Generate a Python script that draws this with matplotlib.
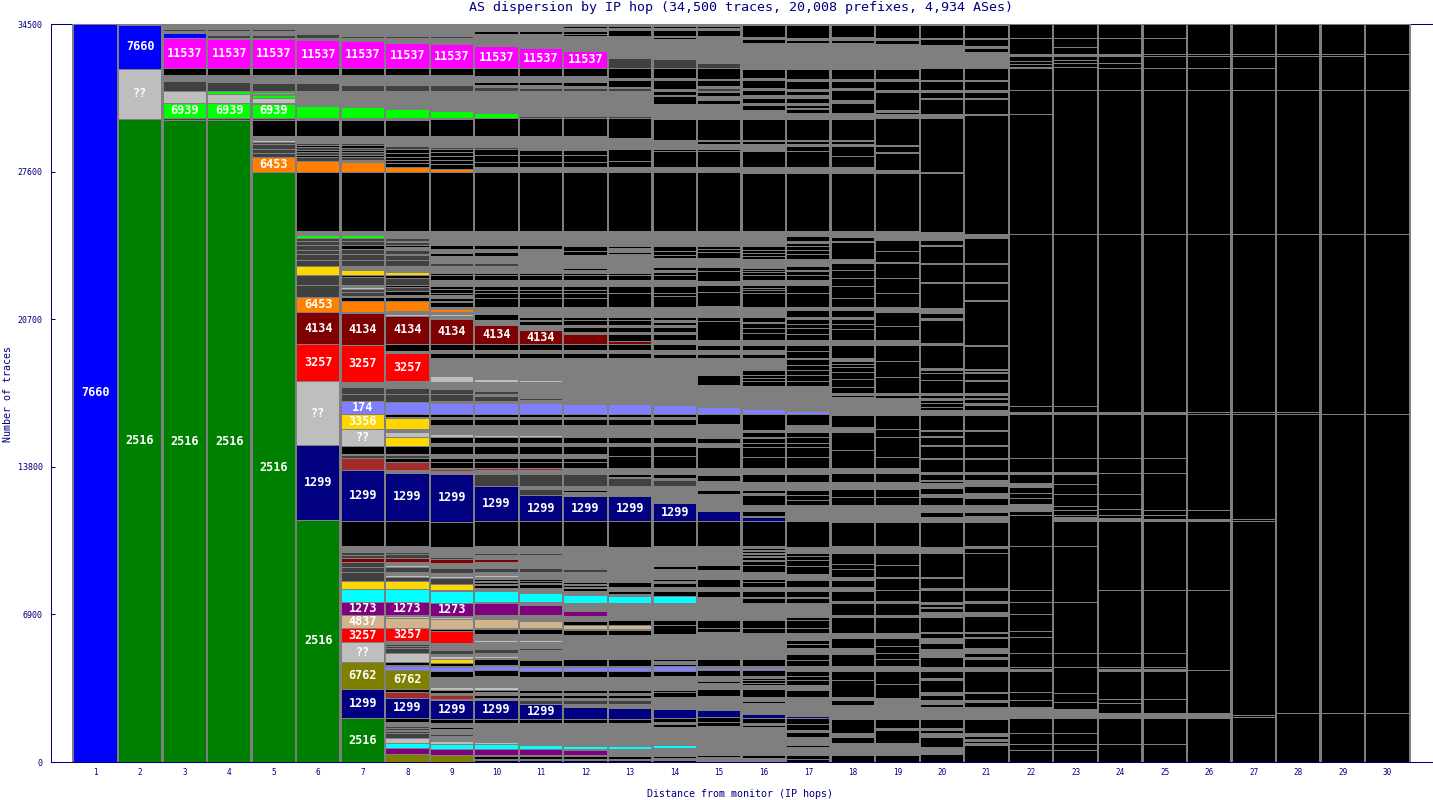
import matplotlib
matplotlib.use("Agg")
import matplotlib.pyplot as plt

TOTAL = 34500
MIN_LABEL = 585
NAVY = "#000080"
GRAY = "#7f7f7f"

# cell kinds that are not labelled: K one small AS, G many tiny ASes, D medium ASes
K, G, D, C, B = "K", "G", "D", "cyan", "brown"

colors = {K: "#000000", G: GRAY, D: "#404040", C: "#00ffff", B: "#a52a2a",
          "??": "#bebebe", "7660": "#0000ff", "2516": "#008000", "11537": "#ff00ff",
          "6939": "#00ff00", "6453": "#ff8000", "4134": "#7f0000", "3257": "#ff0000",
          "174": "#8080ff", "3356": "#ffd700", "1299": "#000080", "1273": "#800080",
          "4837": "#d2b48c", "6762": "#808000"}

y_ticks = [0, 6900, 13800, 20700, 27600, 34500]

# every hop is read from the top of the column down: (AS, traces)
hop_01 = [("7660", 34500)]
hop_02 = [(G, 47), ("7660", 2034), ("??", 2338), ("2516", 30100)]
hop_03 = [(G, 220), (D, 117), (G, 23), (D, 70), ("7660", 234), ("11537", 1403), (K, 327), (G, 281), (D, 468),
          ("??", 561), ("6939", 701), (D, 94), ("2516", 30020)]
hop_04 = [(G, 257), (D, 47), (G, 47), (D, 70), (G, 70), (D, 164), (G, 23), ("11537", 1379), (K, 327), (G, 327),
          (D, 421), ("6939", 140), ("??", 421), ("6939", 701), (D, 94), ("2516", 30020)]
hop_05 = [(G, 240), (D, 70), (G, 187), (D, 140), (G, 70), ("11537", 1356), (K, 327), (G, 351), (D, 397), (G, 47),
          ("6939", 94), (G, 47), ("6939", 117), ("??", 257), (G, 47), ("6939", 631), (D, 117), (K, 725), (G, 140),
          (D, 70), ("??", 94), (D, 70), (D, 234), (D, 187), (D, 210), ("6453", 701), ("2516", 27600)]
hop_06 = [(G, 477), (D, 187), (G, 94), ("11537", 1309), (K, 327), (G, 351), (D, 397), (G, 257), ("6939", 47),
          (G, 397), ("6939", 538), (G, 94), (K, 748), (G, 140), (D, 70), (G, 117), (D, 117), (K, 70), (D, 140), (K, 94),
          (D, 140), (K, 94), (D, 187), ("6453", 538), (K, 2735), (G, 210), ("6939", 140), (D, 140), (D, 187), (D, 234),
          (D, 187), (D, 281), (D, 281), ("3356", 421), (D, 468), (D, 561), ("6453", 701), ("4134", 1496),
          ("3257", 1730), ("??", 2992), ("1299", 3506), ("2516", 11280)]
hop_07 = [(G, 360), (K, 70), (G, 117), (D, 117), (G, 140), ("11537", 1262), (K, 327), (G, 304), (K, 47), (G, 94),
          (D, 304), (G, 257), ("6939", 47), (G, 444), ("6939", 514), (G, 70), (K, 748), (G, 140), (D, 70), (G, 140),
          (D, 94), (K, 117), (D, 94), (K, 94), (D, 140), (K, 94), (D, 140), (G, 117), ("6453", 468), (K, 2735), (G, 210),
          ("6939", 140), (D, 140), (D, 187), (K, 187), (D, 234), (D, 281), (D, 281), (G, 187), ("3356", 234), (K, 70),
          (D, 397), (G, 70), ("??", 117), (D, 140), (D, 164), (G, 70), (K, 164), ("6453", 538), (G, 47), ("4134", 1496),
          ("3257", 1706), (G, 257), (D, 327), (D, 327), ("174", 608), ("3356", 701), ("??", 795), (K, 374), (G, 47),
          (D, 140), (B, 561), ("1299", 2384), (K, 1169), (G, 281), (D, 117), (D, 164), ("4134", 187), (D, 234), (D, 234),
          (D, 421), ("3356", 374), (C, 608), ("1273", 608), ("4837", 608), ("3257", 655), ("??", 935), ("6762", 1262),
          ("1299", 1356), ("2516", 2100)]
hop_08 = [(G, 360), (K, 70), (G, 140), (D, 94), (G, 210), ("11537", 1192), (K, 327), (G, 304), (K, 70), (G, 94),
          (D, 281), (G, 842), ("6939", 421), (G, 70), (K, 748), (G, 491), (D, 140), (K, 187), (K, 164), (K, 140), (K, 140),
          (K, 210), ("6453", 234), (K, 2735), (G, 257), ("6939", 47), (G, 47), (D, 117), (G, 70), (D, 117), (K, 94),
          (G, 140), (D, 187), (K, 70), (D, 210), (D, 281), (G, 281), ("3356", 140), (K, 164), (D, 304), (K, 117), (D, 187),
          (K, 187), (G, 70), (K, 210), ("6453", 468), (G, 117), ("??", 94), ("4134", 1309), (K, 327), (G, 94),
          ("3257", 1332), (G, 304), (D, 281), (D, 374), ("174", 561), (K, 140), (G, 70), ("3356", 491), (G, 140),
          ("??", 234), ("3356", 421), (K, 374), (G, 47), (D, 140), (K, 187), (B, 374), (G, 140), ("1299", 2244), (K, 1169),
          (G, 281), (D, 117), (D, 164), ("4134", 187), (G, 140), ("??", 94), (D, 234), (G, 140), ("??", 94), (D, 187),
          ("3356", 374), (C, 608), ("1273", 608), (G, 47), ("??", 94), ("4837", 468), ("3257", 631), (G, 140), (D, 94),
          (D, 94), (D, 210), ("??", 421), (K, 140), (G, 47), ("174", 187), ("6762", 888), (K, 164), (B, 257), ("1299", 935),
          (K, 187), (G, 210), (D, 94), (D, 94), ("2516", 47), (D, 94), (D, 210), ("??", 234), (C, 234), ("1273", 281),
          ("6762", 400)]
hop_09 = [(G, 360), (K, 70), (G, 140), (D, 94), (G, 281), ("11537", 1122), (K, 327), (G, 304), (K, 70), (G, 94),
          (D, 281), (G, 935), ("6939", 327), (G, 47), (K, 771), (G, 538), (D, 70), (K, 164), (K, 164), (K, 187), (K, 187),
          (K, 257), ("6453", 140), (K, 2735), (G, 421), (D, 47), (G, 210), (K, 187), (G, 117), (D, 47), (K, 140), (G, 327),
          (D, 164), (G, 304), (K, 117), (K, 210), (G, 281), (K, 164), (K, 164), (K, 117), (G, 117), (K, 164), (G, 23),
          (K, 234), (G, 94), ("6453", 140), (G, 117), ("??", 70), (G, 164), ("4134", 1169), (K, 281), (G, 140), (K, 234),
          (G, 655), (D, 47), (G, 140), ("??", 257), (G, 351), (D, 234), (D, 327), (G, 94), ("174", 514), (K, 117), (G, 117),
          (K, 281), (G, 421), ("??", 140), (K, 281), (G, 140), (K, 374), (G, 187), (K, 187), (K, 281), (G, 23), (B, 94),
          (G, 140), ("1299", 2244), (K, 1169), (G, 351), (D, 47), (G, 70), (D, 94), ("4134", 187), (G, 234), (D, 234),
          (G, 140), ("??", 94), (D, 281), ("3356", 281), (G, 47), (C, 561), ("1273", 608), (G, 47), ("??", 94),
          ("4837", 468), (K, 117), ("3257", 538), (G, 164), (D, 70), (G, 94), (D, 187), (G, 94), ("??", 140), ("3356", 187),
          (K, 140), (G, 47), ("174", 187), (K, 281), (G, 397), ("6762", 47), (G, 23), ("??", 140), (K, 140), (G, 94),
          (B, 187), (G, 47), ("1299", 888), (K, 187), (G, 187), (K, 70), (G, 257), (D, 70), (G, 257), ("??", 140), (C, 234),
          ("1273", 281), ("6762", 400)]
hop_10 = [(G, 313), (K, 140), (G, 117), (D, 47), (G, 421), ("11537", 1029), (K, 351), (G, 281), (K, 164), (G, 70),
          (D, 187), (G, 1052), ("6939", 234), (K, 818), (G, 538), (D, 70), (K, 281), (K, 327), (K, 257), (G, 140),
          ("6453", 47), (G, 47), (K, 2735), (G, 421), (D, 47), (G, 210), (K, 187), (G, 117), (K, 187), (G, 327), (D, 164),
          (G, 304), (K, 94), (K, 234), (G, 281), (K, 187), (K, 140), (K, 257), (K, 397), (G, 164), ("6453", 47), (G, 140),
          (K, 257), (G, 187), ("??", 70), ("4134", 888), (K, 281), (G, 140), (K, 234), (G, 655), (D, 47), (G, 281),
          ("??", 117), (G, 444), (D, 140), (G, 94), (D, 210), (G, 117), ("174", 514), (K, 117), (G, 117), (K, 281), (G, 468),
          ("??", 94), (K, 281), (G, 140), (K, 374), (G, 187), (K, 187), (K, 281), (B, 70), (G, 210), (D, 561),
          ("1299", 1636), (K, 1169), (G, 327), (D, 70), (G, 210), ("4134", 140), (G, 281), (D, 164), (G, 164), ("??", 94),
          (G, 70), (K, 94), (G, 47), (K, 94), (G, 47), (K, 164), (G, 140), (C, 514), (G, 47), ("1273", 561), (G, 187),
          ("4837", 421), (G, 47), (K, 234), (G, 281), ("??", 94), (G, 164), (D, 70), (G, 94), (D, 187), (G, 140), ("??", 70),
          (G, 70), (K, 281), (G, 47), ("174", 187), (K, 281), (G, 514), ("??", 94), (K, 140), (G, 94), (K, 140), (G, 94),
          ("1299", 888), (K, 187), (G, 187), (K, 47), (G, 281), (D, 70), (G, 304), ("??", 94), (C, 234), ("1273", 281),
          (G, 47), (K, 140), (G, 70), (K, 130)]
hop_11 = [(G, 313), (K, 140), (G, 117), (D, 47), (G, 514), ("11537", 935), (K, 351), (G, 281), (K, 164), (G, 117),
          (D, 140), (G, 164), (K, 47), (G, 982), (D, 94), (K, 818), (D, 47), (G, 608), (K, 234), (K, 327), (K, 257), (G, 234),
          (K, 2735), (G, 421), (D, 47), (G, 210), (K, 187), (G, 701), (D, 47), (G, 351), (K, 94), (K, 234), (G, 281), (K, 187),
          (K, 140), (K, 257), (K, 397), (G, 468), (K, 140), (G, 70), (K, 164), (G, 257), ("4134", 655), (K, 281), (G, 140),
          (K, 234), (G, 655), (D, 47), (G, 327), ("??", 70), (G, 772), (D, 70), (G, 164), ("174", 514), (K, 117), (G, 117),
          (K, 281), (G, 468), ("??", 94), (K, 281), (G, 140), (K, 374), (G, 187), (K, 187), (K, 281), (B, 70), (G, 210),
          (D, 561), (G, 140), (D, 281), ("1299", 1216), (K, 1169), (G, 327), (D, 70), (G, 257), ("4134", 47), (G, 327),
          (D, 164), (G, 351), (K, 70), (G, 23), (K, 94), (G, 47), (K, 187), (G, 234), (C, 421), (G, 140), ("1273", 468),
          (G, 281), ("4837", 327), (G, 47), (K, 234), (G, 281), ("??", 94), (G, 281), (D, 47), (G, 117), (D, 47), (G, 304),
          (K, 281), (G, 47), ("174", 187), (K, 281), (G, 608), (K, 140), (G, 94), (K, 140), (G, 94), (D, 187), ("1299", 701),
          (K, 187), (G, 187), (K, 47), (G, 281), (D, 70), (G, 444), (C, 187), ("1273", 281), (G, 47), (K, 140), (G, 70), (K, 130)]
hop_12 = [(G, 80), (K, 94), (G, 140), (K, 140), (K, 94), (D, 70), (G, 655), ("11537", 795), (K, 351), (G, 281), (K, 211),
          (G, 70), (D, 140), (G, 164), (K, 47), (G, 982), (D, 94), (K, 818), (G, 655), (K, 234), (K, 327), (K, 257), (G, 234),
          (K, 2735), (G, 701), (K, 234), (K, 187), (G, 468), (K, 70), (G, 70), (K, 117), (G, 117), (K, 94), (K, 234), (G, 281),
          (K, 187), (K, 140), (K, 257), (K, 397), (G, 468), (K, 140), (K, 234), (G, 117), (K, 210), (G, 117), ("4134", 468),
          (K, 281), (G, 140), (K, 234), (G, 655), (D, 47), (G, 1216), (D, 47), (G, 187), ("174", 468), (K, 117), (G, 117),
          (K, 281), (G, 561), (K, 281), (G, 140), (K, 374), (G, 187), (K, 187), (K, 281), (G, 281), (D, 561), (G, 164), (K, 117),
          (G, 187), ("1299", 1169), (K, 1169), (G, 842), (K, 47), (G, 187), (D, 117), (G, 444), (K, 94), (G, 70), (K, 70),
          (G, 70), (K, 140), (G, 164), (C, 374), (G, 374), ("1273", 234), (G, 234), (K, 210), ("4837", 164), (G, 47), (K, 234),
          (G, 678), (D, 47), (G, 421), (K, 304), (G, 47), ("174", 187), (K, 281), (G, 304), (K, 47), (G, 281), (K, 117), (G, 94),
          (K, 140), (G, 94), (D, 187), (G, 140), ("1299", 561), (K, 187), (G, 187), (K, 47), (G, 281), (D, 70), (G, 491),
          (C, 140), (G, 47), ("1273", 234), (G, 47), (K, 140), (G, 70), (K, 130)]
hop_13 = [(G, 80), (K, 94), (G, 117), (K, 257), (G, 47), (K, 70), (G, 748), ("11537", 47), (G, 140), (D, 468), (K, 444),
          (G, 117), (K, 304), (G, 70), (D, 117), (G, 164), (K, 47), (G, 982), (D, 94), (K, 912), (G, 538), (K, 538), (K, 304),
          (G, 234), (K, 2735), (G, 701), (K, 117), (G, 164), (K, 94), (G, 140), (K, 47), (G, 468), (K, 47), (G, 187), (K, 94),
          (K, 234), (G, 281), (K, 327), (K, 655), (G, 468), (K, 140), (K, 234), (G, 117), (K, 210), (G, 117), (K, 304),
          ("4134", 164), (K, 281), (G, 140), (K, 234), (G, 772), (K, 47), (G, 1332), ("174", 468), (K, 117), (G, 117), (K, 281),
          (G, 561), (K, 281), (G, 140), (K, 468), (K, 561), (G, 281), (K, 117), (G, 47), (D, 397), (G, 468), ("1299", 1169),
          (K, 1169), (G, 842), (K, 47), (G, 234), (D, 70), (G, 304), (K, 70), (G, 70), (K, 234), (G, 187), (K, 164), (G, 70),
          (C, 327), (G, 795), (K, 257), ("4837", 164), (G, 47), (K, 234), (G, 1145), (K, 304), (G, 47), ("174", 187), (K, 281),
          (G, 304), (K, 47), (G, 281), (K, 117), (G, 94), (K, 140), (G, 94), (D, 187), (G, 187), ("1299", 514), (K, 187),
          (G, 187), (K, 47), (G, 281), (D, 70), (G, 491), (C, 140), (G, 187), ("1273", 47), (G, 94), (K, 140), (G, 70), (K, 130)]
hop_14 = [(G, 80), (K, 94), (G, 94), (K, 281), (G, 47), (K, 94), (G, 842), (D, 47), (G, 47), (D, 444), (K, 444), (G, 117),
          (K, 397), (G, 94), (K, 187), (G, 47), (K, 374), (G, 585), (D, 47), (G, 70), (K, 982), (G, 444), (K, 94), (K, 748),
          (G, 234), (K, 2735), (G, 701), (K, 234), (K, 187), (K, 164), (G, 397), (K, 164), (G, 70), (K, 140), (K, 234), (G, 281),
          (K, 327), (K, 140), (K, 514), (G, 468), (K, 140), (G, 117), (K, 117), (G, 117), (K, 210), (G, 117), (K, 281), (G, 187),
          (K, 281), (G, 164), (K, 210), (G, 772), (K, 47), (G, 444), (K, 47), (G, 888), ("174", 421), (K, 117), (G, 117), (K, 281),
          (G, 561), (K, 281), (G, 140), (K, 468), (K, 561), (G, 281), (K, 187), (G, 94), (D, 281), (G, 795), ("1299", 842),
          (K, 1169), (G, 865), (K, 47), (G, 23), (K, 140), (G, 444), (K, 94), (G, 117), (K, 187), (G, 164), (K, 257), (C, 281),
          (G, 655), (K, 47), (G, 117), (K, 234), (K, 397), (G, 1192), (K, 94), (G, 117), (K, 117), ("174", 210), (K, 257),
          (G, 304), (K, 47), (G, 281), (K, 94), (K, 234), (G, 234), (D, 47), (G, 281), ("1299", 444), (K, 164), (G, 94), (K, 164),
          (G, 842), (C, 117), (G, 374), (K, 117), (G, 70), (K, 130)]
hop_15 = [(G, 80), (K, 94), (G, 94), (K, 281), (G, 94), (K, 47), (G, 842), (D, 47), (G, 257), (D, 234), (K, 491), (G, 70),
          (K, 281), (G, 70), (D, 164), (G, 47), (K, 164), (G, 210), (K, 187), (G, 678), (K, 982), (G, 47), (K, 140), (G, 257),
          (K, 94), (K, 748), (G, 234), (K, 2735), (G, 514), (K, 47), (G, 164), (K, 140), (K, 140), (K, 257), (G, 444), (K, 187),
          (K, 444), (G, 187), (K, 351), (K, 655), (G, 491), (K, 210), (K, 888), (G, 210), (K, 257), (G, 164), (K, 187), (G, 795),
          (K, 468), (G, 1029), ("174", 351), (K, 468), (G, 631), (K, 234), (G, 187), (K, 1005), (G, 304), (K, 304), (G, 397),
          (K, 187), (G, 795), ("1299", 491), (K, 1169), (G, 444), (K, 47), (G, 374), (K, 234), (G, 421), (K, 374), (G, 187),
          (K, 281), (G, 173), (C, 47), (G, 856), (K, 374), (K, 210), (G, 1239), (K, 327), (G, 94), ("174", 94), (K, 281), (G, 234),
          (K, 94), (K, 47), (G, 234), (K, 327), (G, 210), (D, 47), (G, 421), ("1299", 327), (K, 234), (K, 187), (G, 842), (K, 70),
          (C, 47), (G, 374), (K, 94), (G, 200)]
hop_16 = [(G, 33), (K, 561), (G, 94), (K, 187), (G, 888), (D, 47), (G, 94), (D, 47), (G, 164), (K, 397), (G, 117), (K, 351),
          (G, 94), (K, 234), (G, 140), (K, 234), (G, 94), (K, 234), (G, 421), (K, 982), (G, 47), (K, 140), (G, 281), (K, 70),
          (K, 725), (G, 281), (K, 2712), (G, 701), (K, 187), (K, 140), (K, 140), (K, 140), (G, 374), (K, 70), (K, 70), (K, 94),
          (K, 140), (K, 234), (G, 234), (K, 140), (K, 94), (K, 140), (K, 655), (G, 468), (K, 234), (G, 47), (K, 234), (K, 234),
          (K, 327), (G, 234), (K, 257), (G, 164), (K, 187), (G, 561), (K, 234), (K, 140), (K, 164), (K, 234), (G, 1052),
          ("174", 257), (K, 725), (G, 94), (K, 234), (G, 47), (K, 234), (K, 187), (K, 468), (K, 538), (G, 257), (K, 374), (G, 374),
          (K, 140), (G, 94), (K, 468), (G, 304), (K, 210), (G, 47), ("1299", 210), (K, 1169), (G, 70), (K, 94), (G, 47), (K, 94),
          (G, 47), (K, 94), (G, 47), (K, 140), (G, 70), (K, 187), (K, 281), (G, 351), (K, 140), (K, 234), (G, 187), (K, 281), (G, 47),
          (K, 234), (G, 631), (K, 47), (G, 117), (K, 374), (K, 210), (G, 538), (K, 47), (G, 655), (K, 327), (G, 70), ("174", 117),
          (K, 281), (G, 94), (K, 94), (K, 140), (K, 94), (G, 187), (K, 374), (G, 187), (K, 94), (G, 514), ("1299", 187), (K, 234),
          (G, 94), (K, 94), (G, 421), (K, 47), (G, 397), (K, 47), (G, 397), (K, 140), (G, 200)]
hop_17 = [(G, 33), (K, 608), (G, 94), (K, 140), (G, 47), (K, 47), (G, 795), (D, 47), (G, 304), (K, 444), (G, 94), (K, 374),
          (G, 94), (K, 187), (G, 140), (K, 234), (G, 94), (K, 140), (G, 47), (K, 187), (G, 281), (K, 982), (G, 70), (K, 117), (G, 94),
          (K, 257), (K, 725), (G, 187), (K, 47), (G, 47), (K, 2712), (G, 234), (K, 234), (G, 94), (K, 140), (K, 187), (K, 187),
          (K, 234), (G, 327), (K, 187), (G, 47), (K, 187), (K, 234), (G, 234), (K, 374), (K, 655), (G, 140), (K, 327), (G, 94),
          (K, 234), (K, 187), (K, 281), (K, 281), (G, 234), (K, 281), (K, 327), (G, 47), (K, 281), (K, 234), (K, 234), (K, 281),
          (K, 257), (G, 1145), ("174", 164), (K, 491), (G, 327), (K, 234), (K, 281), (K, 187), (K, 468), (K, 538), (G, 257), (K, 374),
          (G, 374), (K, 234), (K, 234), (K, 234), (G, 701), ("1299", 70), (K, 1169), (G, 304), (K, 140), (K, 187), (K, 281), (K, 374),
          (G, 281), (K, 327), (G, 187), (K, 281), (G, 47), (K, 234), (G, 655), (K, 140), (K, 374), (K, 234), (G, 327), (K, 187),
          (K, 187), (G, 281), (K, 281), (K, 281), (G, 117), ("174", 47), (G, 70), (K, 234), (K, 187), (K, 234), (G, 234), (K, 327),
          (G, 888), ("1299", 94), (K, 281), (K, 281), (G, 94), (K, 234), (G, 374), (K, 94), (G, 374), (K, 187), (K, 170)]
hop_18 = [(G, 33), (K, 561), (G, 140), (K, 164), (G, 1216), (K, 444), (G, 94), (K, 327), (G, 94), (K, 468), (G, 140), (K, 468),
          (G, 281), (K, 982), (G, 70), (K, 117), (G, 94), (K, 468), (K, 514), (G, 187), (K, 47), (G, 47), (K, 2712), (G, 281),
          (K, 187), (G, 47), (K, 795), (G, 187), (K, 327), (K, 374), (K, 374), (K, 561), (K, 421), (G, 140), (K, 327), (G, 94),
          (K, 234), (K, 234), (K, 514), (G, 234), (K, 608), (G, 140), (K, 140), (K, 140), (K, 234), (K, 327), (K, 374), (K, 281),
          (G, 94), (K, 94), (G, 842), (K, 561), (G, 234), (K, 842), (K, 842), (G, 234), (K, 421), (G, 327), (K, 374), (K, 374),
          (G, 795), (K, 1145), (G, 304), (K, 514), (K, 234), (K, 374), (G, 140), (K, 327), (G, 187), (K, 468), (G, 94), (K, 561),
          (G, 94), (K, 748), (G, 234), (K, 468), (G, 281), (K, 561), (G, 234), (K, 421), (K, 795), (G, 140), (K, 234), (G, 655),
          (K, 655), (G, 187), (K, 281), (G, 561), (K, 350)]
hop_19 = [(G, 33), (K, 608), (G, 94), (K, 187), (G, 1192), (K, 444), (G, 94), (K, 421), (G, 94), (K, 842), (G, 94), (K, 94),
          (G, 187), (K, 1262), (G, 47), (K, 281), (G, 47), (K, 795), (G, 140), (K, 2712), (G, 421), (K, 514), (K, 514), (G, 47),
          (K, 701), (K, 701), (K, 655), (G, 234), (K, 655), (K, 655), (G, 234), (K, 748), (K, 748), (K, 748), (G, 94), (K, 140),
          (G, 795), (K, 655), (K, 374), (K, 935), (K, 514), (G, 234), (K, 421), (G, 327), (K, 374), (K, 374), (G, 795), (K, 1145),
          (G, 304), (K, 561), (K, 561), (G, 47), (K, 561), (K, 514), (G, 94), (K, 561), (G, 94), (K, 748), (G, 234), (K, 374),
          (K, 327), (K, 281), (K, 327), (G, 234), (K, 608), (K, 655), (G, 982), (K, 421), (G, 94), (K, 608), (G, 561), (K, 350)]
hop_20 = [(G, 33), (K, 608), (G, 47), (K, 281), (G, 530), (K, 47), (G, 519), (K, 561), (G, 47), (K, 421),
          (G, 94), (K, 281), (G, 47), (K, 701), (G, 187), (K, 2501), (G, 47), (K, 2782), (G, 374), (K, 234), (G, 47), (K, 795),
          (G, 47), (K, 842), (G, 47), (K, 1169), (G, 234), (K, 234), (G, 94), (K, 1075), (G, 94), (K, 1075), (G, 94), (K, 140),
          (K, 327), (K, 608), (G, 94), (K, 140), (G, 94), (K, 140), (K, 187), (K, 140), (G, 234), (K, 701), (G, 47), (K, 234),
          (G, 47), (K, 374), (G, 47), (K, 561), (G, 47), (K, 608), (G, 94), (K, 281), (G, 47), (K, 94), (G, 234), (K, 281),
          (G, 140), (K, 374), (G, 327), (K, 210), (G, 234), (K, 1169), (G, 304), (K, 1122), (G, 47), (K, 468), (G, 94), (K, 538),
          (G, 94), (K, 140), (G, 47), (K, 187), (G, 257), (K, 701), (G, 47), (K, 234), (G, 234), (K, 281), (G, 374), (K, 468),
          (G, 187), (K, 327), (G, 94), (K, 561), (G, 140), (K, 234), (G, 187), (K, 140), (G, 561), (K, 421), (G, 94), (K, 94),
          (G, 187), (K, 514), (G, 281), (K, 450)]
hop_21 = [(G, 33), (K, 608), (G, 47), (K, 327), (G, 94), (K, 187), (G, 234), (K, 47), (G, 234), (G, 234), (K, 561), (G, 47),
          (K, 421), (G, 94), (K, 281), (G, 47), (K, 701), (G, 47), (K, 5563), (G, 187), (K, 1169), (G, 47), (K, 842), (G, 47),
          (K, 795), (G, 47), (K, 2057), (G, 47), (K, 1075), (G, 47), (K, 94), (G, 47), (K, 327), (G, 47), (K, 561), (G, 94), (K, 140),
          (G, 47), (K, 187), (G, 94), (K, 234), (G, 234), (K, 701), (G, 47), (K, 655), (G, 47), (K, 561), (G, 47), (K, 608), (G, 94),
          (K, 281), (G, 94), (K, 47), (G, 140), (K, 327), (G, 234), (K, 327), (G, 327), (K, 187), (G, 281), (K, 1145), (G, 70),
          (K, 234), (K, 1636), (G, 94), (K, 538), (G, 70), (K, 421), (G, 187), (K, 748), (G, 47), (K, 187), (G, 47), (K, 468), (G, 94),
          (K, 47), (G, 94), (K, 187), (G, 94), (K, 374), (G, 187), (K, 982), (G, 47), (K, 327), (G, 94), (K, 234), (G, 561), (K, 655),
          (G, 140), (K, 140), (G, 94), (K, 94), (G, 94), (K, 850)]
hop_22 = [(K, 655), (K, 734), (G, 94), (K, 234), (K, 140), (K, 140), (G, 47), (K, 1029), (K, 1122), (K, 5610), (K, 8041), (K, 281),
          (G, 94), (K, 2057), (K, 655), (G, 94), (K, 421), (G, 187), (K, 281), (K, 234), (K, 281), (G, 327), (K, 187), (K, 1473),
          (K, 2034), (K, 561), (K, 561), (K, 795), (K, 281), (K, 748), (K, 655), (K, 94), (G, 94), (K, 982), (K, 374), (K, 327),
          (G, 514), (K, 701), (K, 514), (K, 281), (K, 600)]
hop_23 = [(K, 655), (K, 421), (K, 313), (G, 94), (K, 187), (K, 154), (K, 206), (K, 1043), (K, 6732), (K, 8041), (K, 281), (G, 94),
          (K, 2057), (K, 655), (G, 94), (K, 468), (K, 468), (K, 561), (K, 187), (K, 234), (K, 94), (G, 210), (K, 1169), (K, 2595),
          (K, 2384), (K, 655), (K, 1216), (K, 421), (K, 327), (G, 421), (K, 701), (K, 514), (K, 281), (K, 600)]
hop_24 = [(K, 655), (K, 734), (G, 94), (K, 341), (K, 220), (K, 1029), (K, 6732), (K, 8322), (G, 94), (K, 2057), (K, 701), (K, 982),
          (K, 701), (K, 281), (K, 140), (G, 164), (K, 3202), (K, 2945), (K, 655), (K, 94), (G, 94), (K, 1309), (K, 187), (K, 468),
          (G, 234), (K, 1216), (K, 880)]
hop_25 = [(K, 655), (K, 734), (K, 94), (K, 575), (K, 1014), (K, 6732), (K, 8322), (G, 94), (K, 2057), (K, 701), (K, 1730), (K, 234),
          (K, 187), (G, 117), (K, 3202), (K, 2945), (K, 655), (K, 94), (G, 94), (K, 1309), (K, 655), (G, 234), (K, 1216), (K, 880)]
hop_26 = [(K, 1388), (K, 94), (K, 575), (K, 1014), (K, 6732), (K, 8322), (K, 94), (K, 4488), (K, 421), (G, 117), (K, 3202), (K, 3740),
          (K, 2010), (G, 234), (K, 2100)]
hop_27 = [(K, 1388), (K, 94), (K, 575), (K, 1014), (K, 6732), (K, 8322), (K, 94), (K, 4909), (K, 94), (K, 9093), (K, 94), (K, 2120)]
hop_28 = [(K, 1388), (K, 94), (K, 1590), (K, 6732), (K, 8322), (K, 94), (K, 13979), (K, 2320)]
hop_29 = [(K, 1388), (K, 94), (K, 1590), (K, 6732), (K, 8415), (K, 13979), (K, 2320)]
hop_30 = [(K, 1403), (K, 1683), (K, 6732), (K, 8415), (K, 13979), (K, 2320)]

hops = [hop_01, hop_02, hop_03, hop_04, hop_05, hop_06, hop_07, hop_08, hop_09, hop_10,
        hop_11, hop_12, hop_13, hop_14, hop_15, hop_16, hop_17, hop_18, hop_19, hop_20,
        hop_21, hop_22, hop_23, hop_24, hop_25, hop_26, hop_27, hop_28, hop_29, hop_30]

fig = plt.figure(figsize=(14.33, 8), dpi=100)
ax = fig.add_axes([51 / 1433, 38 / 800, 1381 / 1433, 738 / 800])

xs, heights, bottoms, fills = [], [], [], []
for hop, cells in enumerate(hops, start=1):
    top = TOTAL
    for name, n in cells:
        xs.append(hop)
        heights.append(n)
        bottoms.append(top - n)
        fills.append(colors[name])
        if n >= MIN_LABEL and name[0] in "0123456789?":
            ax.text(hop, top - n / 2, name, color="white", ha="center", va="center", zorder=5,
                    family="DejaVu Sans Mono", weight="bold", fontsize=8.5, clip_on=True)
        top -= n

ax.bar(xs, heights, bottom=bottoms, width=1, color=fills, edgecolor=GRAY, linewidth=0.5,
       antialiased=False, zorder=3)

# column borders come out 1 or 2 pixels wide depending on where they fall
borders = [hop - 0.5 for hop in range(1, len(hops) + 2)]
ax.vlines(borders, 0, TOTAL, color=GRAY, linewidth=0.95, antialiased=False, zorder=3.5, snap=False)

ax.set_xlim(0, 31)
ax.set_ylim(0, TOTAL)
ax.set_xticks(range(1, 31))
ax.set_yticks(y_ticks)
ax.tick_params(axis="x", length=0, pad=4, labelsize=5.5, labelcolor=NAVY)
ax.tick_params(axis="y", direction="in", length=3, width=0.75, color=NAVY, pad=6, labelsize=6, labelcolor=NAVY)
for label in ax.get_xticklabels() + ax.get_yticklabels():
    label.set_family("DejaVu Sans Mono")

for side in ax.spines:
    ax.spines[side].set_color(NAVY)
    ax.spines[side].set_linewidth(0.75)
ax.spines["right"].set_visible(False)
ax.spines["top"].set_zorder(2)
ax.spines["bottom"].set_zorder(4)

fig.text(741 / 1433, 1 - 8 / 800, "AS dispersion by IP hop (34,500 traces, 20,008 prefixes, 4,934 ASes)",
         color=NAVY, family="DejaVu Sans Mono", fontsize=9.6, ha="center", va="center")
fig.text(740 / 1433, 1 - 794 / 800, "Distance from monitor (IP hops)",
         color=NAVY, family="DejaVu Sans Mono", fontsize=7.2, ha="center", va="center")
fig.text(8 / 1433, 1 - 394 / 800, "Number of traces", rotation=90,
         color=NAVY, family="DejaVu Sans Mono", fontsize=7.2, ha="center", va="center")

fig.savefig("out.png", dpi=100)
